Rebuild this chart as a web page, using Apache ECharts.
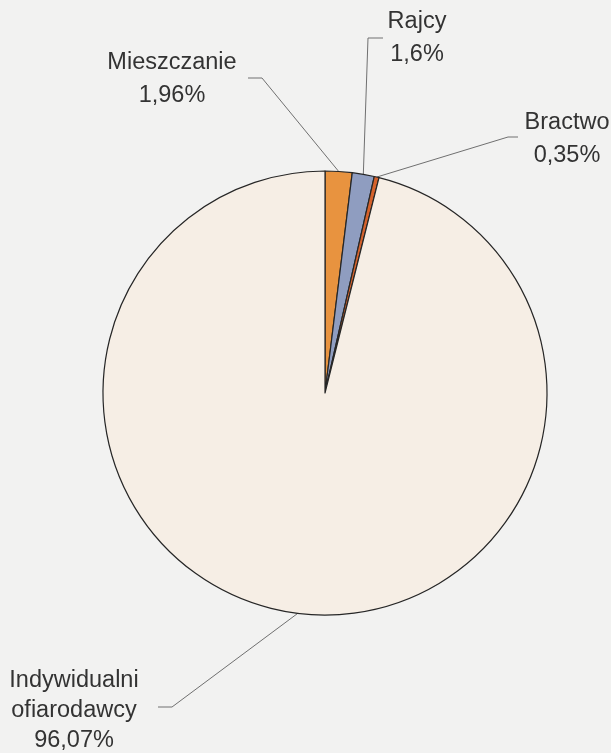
<!DOCTYPE html>
<html>
<head>
<meta charset="utf-8">
<script src="https://cdn.jsdelivr.net/npm/echarts@6/dist/echarts.min.js"></script>
<style>
html,body{margin:0;padding:0;background:#f2f2f1;}
#chart{width:611px;height:753px;}
</style>
</head>
<body>
<div id="chart"></div>
<script>
// Data
var categories = ['Mieszczanie', 'Rajcy', 'Bractwo', 'Indywidualni\nofiarodawcy'];
var shares = [1.96, 1.6, 0.35, 96.07];
var sliceColors = ['#e8933f', '#8f9dc0', '#d5622c', '#f6eee5'];

function fmt(v) { return String(v).replace('.', ','); }

// Label placement (layout only): label centre, elbow point, line end
var labelPlace = [
  { x: 172, y: 79,  elbow: [262, 78],  end: [248, 78] },
  { x: 417, y: 38,  elbow: [368, 38],  end: [383, 38] },
  { x: 567, y: 139, elbow: [508, 137], end: [518, 137] },
  { x: 74,  y: 711, elbow: [172, 707], end: [158, 707] }
];

var chart = echarts.init(document.getElementById('chart'), null, { renderer: 'canvas' });

var seriesData = categories.map(function (c, i) {
  var item = { name: c, value: shares[i], itemStyle: { color: sliceColors[i] } };
  if (i === 3) item.label = { lineHeight: 30 };
  return item;
});

chart.setOption({
  backgroundColor: '#f2f2f1',
  animation: false,
  series: [{
    type: 'pie',
    center: [325, 393],
    radius: 222,
    startAngle: 90,
    clockwise: true,
    avoidLabelOverlap: false,
    minShowLabelAngle: 0,
    data: seriesData,
    itemStyle: { borderColor: '#262626', borderWidth: 1.2 },
    label: {
      show: true,
      position: 'outside',
      formatter: function (p) { return p.name + '\n' + fmt(p.value) + '%'; },
      fontFamily: 'Liberation Sans, Arial, sans-serif',
      fontSize: 23.5,
      color: '#333333',
      lineHeight: 33,
      align: 'center'
    },
    labelLine: {
      show: true,
      length: 10,
      length2: 10,
      lineStyle: { color: '#707070', width: 1 }
    },
    labelLayout: function (params) {
      var pl = labelPlace[params.dataIndex];
      var start = params.labelLinePoints ? params.labelLinePoints[0] : pl.elbow;
      return {
        x: pl.x,
        y: pl.y,
        align: 'center',
        verticalAlign: 'middle',
        labelLinePoints: [start, pl.elbow, pl.end]
      };
    },
    emphasis: { disabled: true }
  }]
});
</script>
</body>
</html>
